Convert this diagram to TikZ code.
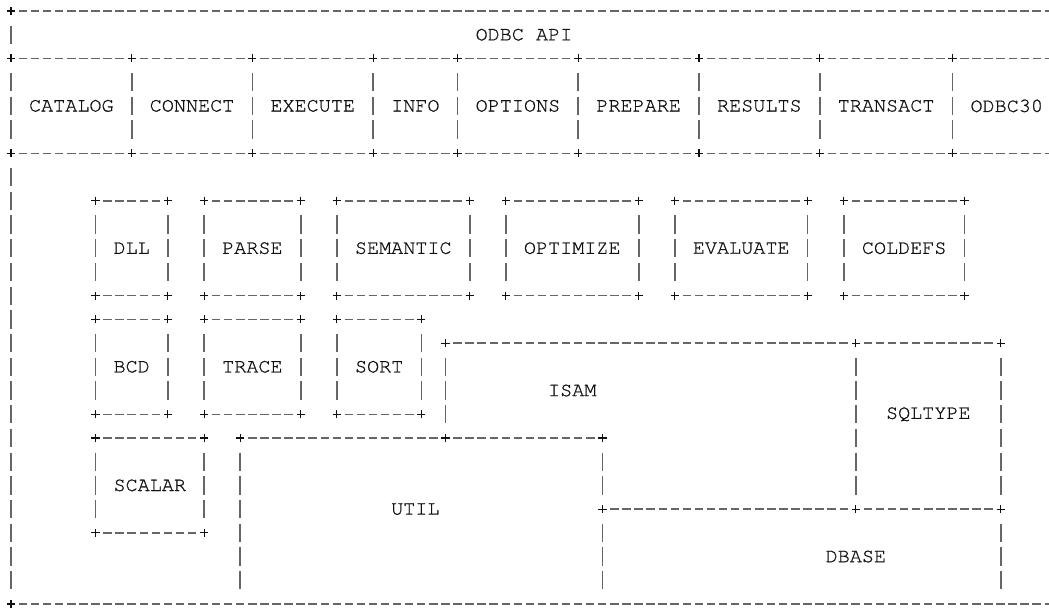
\documentclass[tikz,border=0pt]{standalone}
\usepackage{fontspec}
\newfontfamily\cursorfont[Extension=.otf, FakeBold=0.8]{texgyrecursor-regular}
\usetikzlibrary{calc}
\definecolor{ink}{HTML}{111111}
\definecolor{edge}{HTML}{666666}

\begin{document}
\begin{tikzpicture}[
  x=9.0525pt, y=-17.79pt,
  modname/.style={font=\cursorfont\fontsize{15.1pt}{17.8pt}\selectfont,
                  text=ink, inner sep=0pt},
  hline/.style={draw=edge, line width=1.1pt, dash pattern=on 6.34pt off 2.71pt,
                shorten <=5.88pt, shorten >=5.88pt},
  vline/.style={draw=edge, line width=1.3pt, dash pattern=on 13.7pt off 4.09pt,
                shorten <=10.94pt, shorten >=10.94pt},
  joint/.style={draw=ink, line width=0.8pt},
  junction/.pic={\draw[joint] (-0.34,0) -- (0.34,0) (0,-0.17) -- (0,0.17);}
]
\path[use as bounding box, fill=white] (-0.911,-0.464) rectangle (86,25.38);

% api layer
\node[modname] (api) at (42.5,1) {ODBC API};
\node[modname] (catalog)  at (5,4)    {CATALOG};
\node[modname] (connect)  at (15,4)   {CONNECT};
\node[modname] (execute)  at (25,4)   {EXECUTE};
\node[modname] (info)     at (33.5,4) {INFO};
\node[modname] (options)  at (42,4)   {OPTIONS};
\node[modname] (prepare)  at (52,4)   {PREPARE};
\node[modname] (results)  at (62,4)   {RESULTS};
\node[modname] (transact) at (72.5,4) {TRANSACT};
\node[modname] (odbc30)   at (82.5,4) {ODBC30};

% engine
\node[modname] (dll)      at (10,10)   {DLL};
\node[modname] (parse)    at (20,10)   {PARSE};
\node[modname] (semantic) at (32.5,10) {SEMANTIC};
\node[modname] (optimize) at (46.5,10) {OPTIMIZE};
\node[modname] (evaluate) at (60.5,10) {EVALUATE};
\node[modname] (coldefs)  at (74,10)   {COLDEFS};
\node[modname] (bcd)      at (10,15)   {BCD};
\node[modname] (trace)    at (20,15)   {TRACE};
\node[modname] (sort)     at (30.5,15) {SORT};
\node[modname] (isam)     at (46.5,16) {ISAM};
\node[modname] (sqltype)  at (76,17)   {SQLTYPE};
\node[modname] (scalar)   at (11.5,20) {SCALAR};
\node[modname] (util)     at (33.5,21) {UTIL};
\node[modname] (dbase)    at (70,23)   {DBASE};

% outer frame, open on the right
\draw[hline] (0,0) -- (86.65,0);
\draw[hline] (0,25) -- (86.65,25);
\draw[vline] (0,0) -- (0,2);
\draw[vline] (0,2) -- (0,6);
\draw[vline] (0,6) -- (0,25);
\foreach \ya in {2,6}
  \foreach \xa/\xb in {0/10,10/20,20/30,30/37,37/47,47/57,57/67,67/78,78/86.65}
    \draw[hline] (\xa,\ya) -- (\xb,\ya);
\foreach \xa in {10,20,30,37,47,57,67,78}
  \draw[vline] (\xa,2) -- (\xa,6);
\foreach \xa in {0,10,20,30,37,47,57,67,78} {
  \pic at (\xa,2) {junction};
  \pic at (\xa,6) {junction};
}
\pic at (0,0) {junction};
\pic at (0,25) {junction};

% closed boxes
\foreach \xa/\ya/\xb/\yb in {7/8/13/12, 16/8/24/12, 27/8/38/12, 41/8/52/12,
    55/8/66/12, 69/8/79/12, 7/13/13/17, 16/13/24/17, 27/13/34/17,
    7/18/16/22, 70/14/82/21} {
  \draw[hline] (\xa,\ya) -- (\xb,\ya);
  \draw[hline] (\xa,\yb) -- (\xb,\yb);
  \draw[vline] (\xa,\ya) -- (\xa,\yb);
  \draw[vline] (\xb,\ya) -- (\xb,\yb);
  \pic at (\xa,\ya) {junction};
  \pic at (\xb,\ya) {junction};
  \pic at (\xa,\yb) {junction};
  \pic at (\xb,\yb) {junction};
}

% isam, util and dbase share their edges
\draw[hline] (36,14) -- (70,14);
\draw[hline] (19,18) -- (36,18);
\draw[hline] (36,18) -- (49,18);
\draw[hline] (49,21) -- (70,21);
\draw[vline] (36,14) -- (36,18);
\draw[vline] (19,18) -- (19,25);
\draw[vline] (49,18) -- (49,21);
\draw[vline] (49,21) -- (49,25);
\draw[vline] (82,21) -- (82,25);
\foreach \xa/\ya in {36/14, 36/18, 19/18, 49/18, 49/21}
  \pic at (\xa,\ya) {junction};
\end{tikzpicture}
\end{document}
